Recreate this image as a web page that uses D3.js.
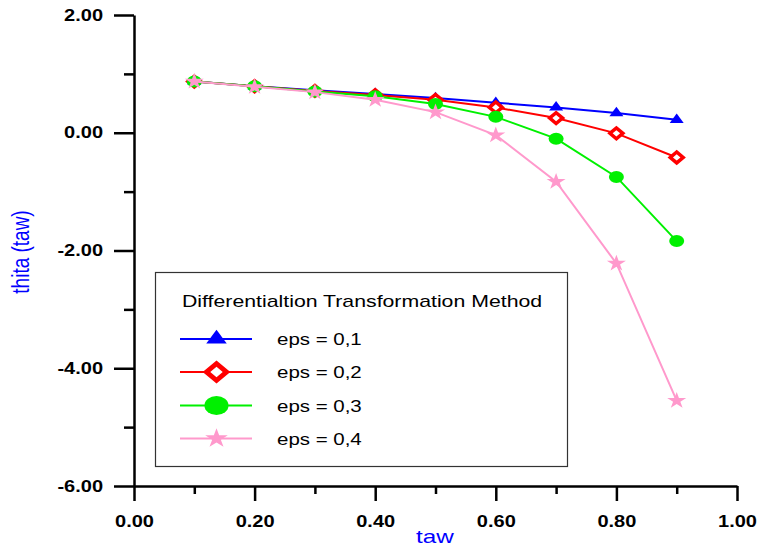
<!DOCTYPE html>
<html>
<head>
<meta charset="utf-8">
<script src="https://cdn.jsdelivr.net/npm/d3@7"></script>
<style>
  html, body { margin: 0; padding: 0; background: #fff; }
  svg { display: block; font-family: Arial, "Liberation Sans", sans-serif; }
</style>
</head>
<body>
<svg id="chart" width="758" height="551"></svg>
<script>
// ---- data ----
const tawValues = [0.1, 0.2, 0.3, 0.4, 0.5, 0.6, 0.7, 0.8, 0.9];
const eps01 = [0.87, 0.79, 0.72, 0.66, 0.59, 0.51, 0.43, 0.335, 0.22];
const eps02 = [0.87, 0.79, 0.71, 0.64, 0.56, 0.43, 0.25, -0.01, -0.42];
const eps03 = [0.87, 0.79, 0.70, 0.62, 0.49, 0.27, -0.10, -0.75, -1.84];
const eps04 = [0.87, 0.78, 0.69, 0.56, 0.35, -0.04, -0.83, -2.22, -4.55];
const seriesNames = ["eps = 0,1", "eps = 0,2", "eps = 0,3", "eps = 0,4"];
const xMajorTicks = [0, 0.2, 0.4, 0.6, 0.8, 1.0];
const xMinorTicks = [0.1, 0.3, 0.5, 0.7, 0.9];
const yMajorTicks = [-6, -4, -2, 0, 2];
const yMinorTicks = [-5, -3, -1, 1];
const legendTitle = "Differentialtion Transformation Method";
const xTitle = "taw";
const yTitle = "thita (taw)";

const series = [
  { name: seriesNames[0], values: eps01, color: "#0000ff", marker: "triangle" },
  { name: seriesNames[1], values: eps02, color: "#ff0000", marker: "diamond" },
  { name: seriesNames[2], values: eps03, color: "#00f000", marker: "circle" },
  { name: seriesNames[3], values: eps04, color: "#ff99cc", marker: "star" }
];

const svg = d3.select("#chart");
const SX = 1.25; // horizontal text stretch seen in the reference

const x = d3.scaleLinear().domain([0, 1]).range([134, 737]);
const y = d3.scaleLinear().domain([-6, 2]).range([486, 15]);

// ---- axes ----
const fmt = v => d3.format(".2f")(v).replace("\u2212", "-");

const yMaj = svg.append("g").attr("transform", `translate(${x(0)},0)`)
  .call(d3.axisLeft(y).tickValues(yMajorTicks).tickSize(20).tickSizeOuter(0).tickPadding(4.8).tickFormat(fmt));
svg.append("g").attr("transform", `translate(${x(0)},0)`)
  .call(d3.axisLeft(y).tickValues(yMinorTicks).tickSize(10).tickFormat(""))
  .call(g => g.select(".domain").remove());
const xMaj = svg.append("g").attr("transform", `translate(0,${y(-6)})`)
  .call(d3.axisBottom(x).tickValues(xMajorTicks).tickSize(15).tickSizeOuter(0).tickPadding(14.6).tickFormat(fmt));
svg.append("g").attr("transform", `translate(0,${y(-6)})`)
  .call(d3.axisBottom(x).tickValues(xMinorTicks).tickSize(8).tickFormat(""))
  .call(g => g.select(".domain").remove());

svg.selectAll(".domain, .tick line").attr("stroke", "#000").attr("stroke-width", 2.5);
[yMaj, xMaj].forEach(g => g.selectAll("text")
  .attr("font-size", 16).attr("font-weight", "bold").attr("fill", "#000")
  .attr("font-family", "Arial, 'Liberation Sans', sans-serif"));
yMaj.selectAll("text").attr("transform", `scale(${SX},1)`).attr("x", -(31 / SX));
xMaj.selectAll("text").attr("transform", `scale(${SX},1)`);

// axis titles
svg.append("text")
  .attr("transform", `translate(435,543) scale(1.28,1)`)
  .attr("text-anchor", "middle").attr("font-size", 19).attr("fill", "#0000ff")
  .text(xTitle);
svg.append("text")
  .attr("transform", `translate(29,252) scale(1.28,1) rotate(-90)`)
  .attr("text-anchor", "middle").attr("font-size", 19).attr("fill", "#0000ff")
  .text(yTitle);

// ---- markers ----
function drawMarker(g, type, color, cx, cy, big) {
  if (type === "triangle") {
    g.append("path")
      .attr("d", d3.symbol(d3.symbolTriangle, big ? 111 : 52)())
      .attr("transform", `translate(${cx},${cy}) scale(1.28,1)`)
      .attr("fill", color);
  } else if (type === "diamond") {
    g.append("path")
      .attr("d", d3.symbol(d3.symbolSquare, big ? 140 : 58)())
      .attr("transform", `translate(${cx},${cy}) scale(1.2,1) rotate(45)`)
      .attr("fill", "#fff").attr("stroke", color).attr("stroke-width", big ? 4.5 : 3.2);
  } else if (type === "circle") {
    g.append("ellipse")
      .attr("cx", cx).attr("cy", cy)
      .attr("rx", big ? 12 : 7.5).attr("ry", big ? 9.5 : 6)
      .attr("fill", color);
  } else if (type === "star") {
    g.append("path")
      .attr("d", d3.symbol(d3.symbolStar, big ? 120 : 85)())
      .attr("transform", `translate(${cx},${cy}) scale(1.15,1)`)
      .attr("fill", color);
  }
}

// ---- series ----
const line = d3.line().x((d, i) => x(tawValues[i])).y(d => y(d));
series.forEach(s => {
  const g = svg.append("g");
  g.append("path").datum(s.values).attr("d", line)
    .attr("fill", "none").attr("stroke", s.color).attr("stroke-width", 2);
  s.values.forEach((v, i) => drawMarker(g, s.marker, s.color, x(tawValues[i]), y(v), false));
});

// ---- legend ----
const lg = svg.append("g");
lg.append("rect").attr("x", 155.5).attr("y", 272.5).attr("width", 412).attr("height", 194)
  .attr("fill", "#fff").attr("stroke", "#333").attr("stroke-width", 1.2);
lg.append("text").attr("transform", `translate(182,307) scale(1.33,1)`)
  .attr("font-size", 16).attr("fill", "#000").text(legendTitle);
const rowY = [339, 372, 405.5, 438.5];
series.forEach((s, i) => {
  const ry = rowY[i];
  lg.append("line").attr("x1", 180).attr("x2", 252).attr("y1", ry).attr("y2", ry)
    .attr("stroke", s.color).attr("stroke-width", 2);
  drawMarker(lg, s.marker, s.color, 216.5, ry, true);
  lg.append("text").attr("transform", `translate(277,${ry + 6}) scale(1.28,1)`)
    .attr("font-size", 16).attr("fill", "#000").text(s.name);
});
</script>
</body>
</html>
